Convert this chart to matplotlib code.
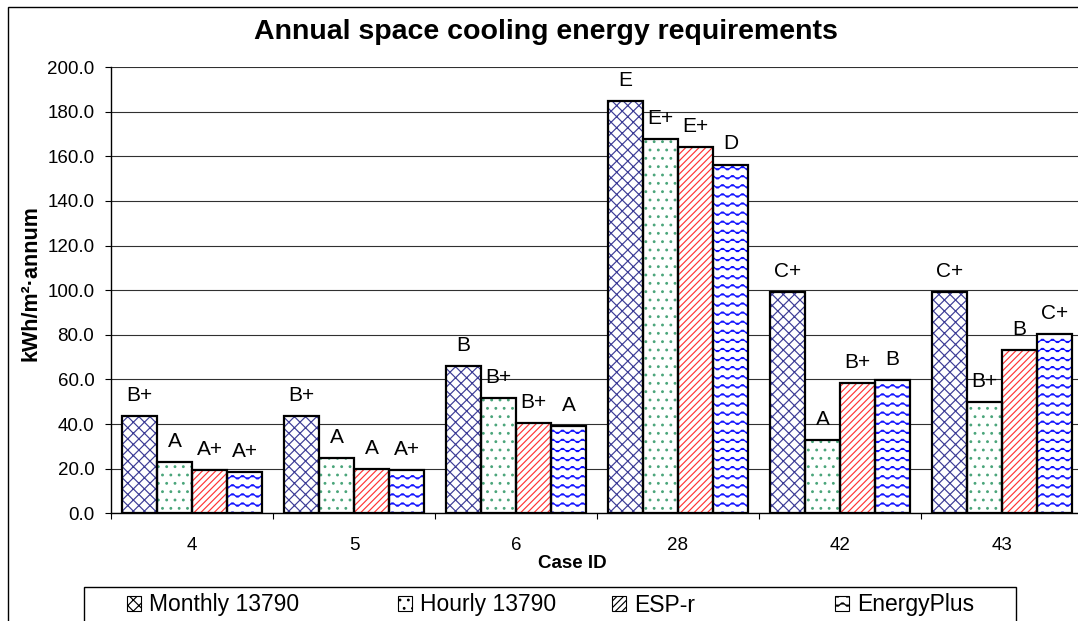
import numpy as np
import matplotlib
matplotlib.use("Agg")
import matplotlib.pyplot as plt
import matplotlib.hatch as mhatch
from matplotlib.path import Path
from matplotlib.patches import Rectangle, Patch

# ---------------- data ----------------
cases = ["4", "5", "6", "28", "42", "43"]
series_names = ["Monthly 13790", "Hourly 13790", "ESP-r", "EnergyPlus"]
monthly = [43.6, 43.6, 66.0, 184.8, 99.0, 99.0]
hourly = [23.0, 24.7, 51.6, 167.6, 32.7, 49.7]
esp_r = [19.4, 19.8, 40.6, 164.0, 58.5, 73.1]
energyplus = [18.5, 19.4, 39.1, 156.3, 59.6, 80.4]
grades_monthly = ["B+", "B+", "B", "E", "C+", "C+"]
grades_hourly = ["A", "A", "B+", "E+", "A", "B+"]
grades_esp_r = ["A+", "A", "B+", "E+", "B+", "B"]
grades_energyplus = ["A+", "A+", "A", "D", "B", "C+"]
y_ticks = [0, 20, 40, 60, 80, 100, 120, 140, 160, 180, 200]

title = "Annual space cooling energy requirements"
ylabel = "kWh/m\u00b2\u00b7annum"
xlabel = "Case ID"


# ---------------- custom hatch patterns ----------------
class WaveHatch(mhatch.HatchPatternBase):
    NSEG = 60

    def __init__(self, hatch, density):
        self.num_lines = 11 * hatch.count("~")
        self.num_vertices = self.num_lines * (self.NSEG + 1)

    def set_vertices_and_codes(self, vertices, codes):
        t = np.linspace(0.0, 1.0, self.NSEG + 1)
        k = 0
        for i in range(self.num_lines):
            y0 = (i + 0.5) / self.num_lines
            vertices[k:k + self.NSEG + 1, 0] = t
            vertices[k:k + self.NSEG + 1, 1] = y0 + 0.018 * np.sin(2 * np.pi * 10 * t)
            codes[k] = Path.MOVETO
            codes[k + 1:k + self.NSEG + 1] = Path.LINETO
            k += self.NSEG + 1


class DiamondHatch(mhatch.HatchPatternBase):
    N = 9

    def __init__(self, hatch, density):
        self.on = hatch.count("%") > 0
        self.num_lines = (4 * self.N + 2) if self.on else 0
        self.num_vertices = self.num_lines * 2

    def set_vertices_and_codes(self, vertices, codes):
        n = self.N
        k = 0
        for j in range(-n, n + 1):
            c = j / n
            vertices[k] = (0.0, c)
            vertices[k + 1] = (1.0, 1.0 + c)
            codes[k] = Path.MOVETO
            codes[k + 1] = Path.LINETO
            k += 2
        for j in range(0, 2 * n + 1):
            c = j / n
            vertices[k] = (0.0, c)
            vertices[k + 1] = (1.0, c - 1.0)
            codes[k] = Path.MOVETO
            codes[k + 1] = Path.LINETO
            k += 2


mhatch._hatch_types.append(WaveHatch)
mhatch._hatch_types.append(DiamondHatch)
mhatch._validate_hatch_pattern = lambda hatch: None

plt.rcParams["font.family"] = ["Liberation Sans", "DejaVu Sans"]
plt.rcParams["hatch.linewidth"] = 0.85

W, H = 1078, 621
fig = plt.figure(figsize=(W / 100, H / 100), dpi=100)
fig.patch.set_facecolor("white")

def fx(px):
    return px / W

def fy(py):
    return 1 - py / H

# outer chart frame (extends beyond the cropped image)
fig.patches.append(Rectangle((fx(8), fy(640)), fx(1100) - fx(8), fy(7) - fy(640),
                             transform=fig.transFigure, fill=False,
                             edgecolor="black", linewidth=1.0))

ax = fig.add_axes([fx(111), fy(513.3), fx(1083) - fx(111), fy(67) - fy(513.3)])

data = [monthly, hourly, esp_r, energyplus]
grades = [grades_monthly, grades_hourly, grades_esp_r, grades_energyplus]
hatches = ["%", "..", "/////", "~"]
hatch_colors = ["#3c3c96", "#4aa57a", "#ff3535", "#1010ff"]

x = np.arange(len(cases))
bw = 0.216
offsets = (np.arange(4) - 1.5) * bw

for vals, grd, hatch, hc, off in zip(data, grades, hatches, hatch_colors, offsets):
    ax.bar(x + off, vals, bw, color="white", edgecolor=hc, hatch=hatch,
           linewidth=0, zorder=3)
    bars = ax.bar(x + off, vals, bw, fill=False, edgecolor="black",
                  linewidth=1.6, zorder=4)
    for b, g in zip(bars, grd):
        ax.annotate(g, (b.get_x() + b.get_width() / 2, b.get_height()),
                    xytext=(0, 8), textcoords="offset points",
                    ha="center", va="bottom", fontsize=15, zorder=5)

ax.set_xlim(-0.5, len(cases) - 0.5)
ax.set_ylim(0, 200)
ax.set_yticks(y_ticks)
ax.set_yticklabels([f"{v:.1f}" for v in y_ticks], fontsize=13.5)
ax.set_xticks(x)
ax.set_xticklabels(cases, fontsize=13.5)
ax.set_xticks(np.arange(len(cases) + 1) - 0.5, minor=True)
ax.tick_params(axis="x", which="major", length=0, pad=17)
ax.tick_params(axis="x", which="minor", length=4, width=0.8, direction="out")
ax.tick_params(axis="y", which="major", length=4, width=0.8, direction="out", pad=8)

ax.yaxis.grid(True, color="#303030", linewidth=0.8, zorder=0)
ax.set_axisbelow(True)
for s in ["top", "right"]:
    ax.spines[s].set_visible(False)
ax.spines["left"].set_linewidth(1.0)
ax.spines["bottom"].set_linewidth(1.0)

fig.text(fx(546), fy(32), title, ha="center", va="center",
         fontsize=20.5, fontweight="bold")
fig.text(fx(31), fy(283), ylabel, ha="center", va="center", rotation=90,
         fontsize=15.5, fontweight="bold")
fig.text(fx(572), fy(564), xlabel, ha="center", va="center",
         fontsize=13.5, fontweight="bold")

# legend frame
fig.patches.append(Rectangle((fx(84), fy(640)), fx(1016) - fx(84), fy(587) - fy(640),
                             transform=fig.transFigure, fill=True, facecolor="white",
                             edgecolor="black", linewidth=1.0, zorder=1))

handle_lefts = [127, 398, 612, 835]
for name, h, hc, hl in zip(series_names, hatches, hatch_colors, handle_lefts):
    hp = Patch(facecolor="white", edgecolor=hc, hatch=h, linewidth=0.8)
    leg = fig.legend([hp], [name], loc="center left",
                     bbox_to_anchor=(fx(hl), fy(605)),
                     bbox_transform=fig.transFigure, frameon=False, fontsize=16.5,
                     handlelength=0.6, handleheight=0.6, handletextpad=0.35,
                     borderaxespad=0, borderpad=0)
    for lh in leg.legend_handles:
        lh.set_edgecolor("black")

fig.savefig("out.png", dpi=100, facecolor="white")
